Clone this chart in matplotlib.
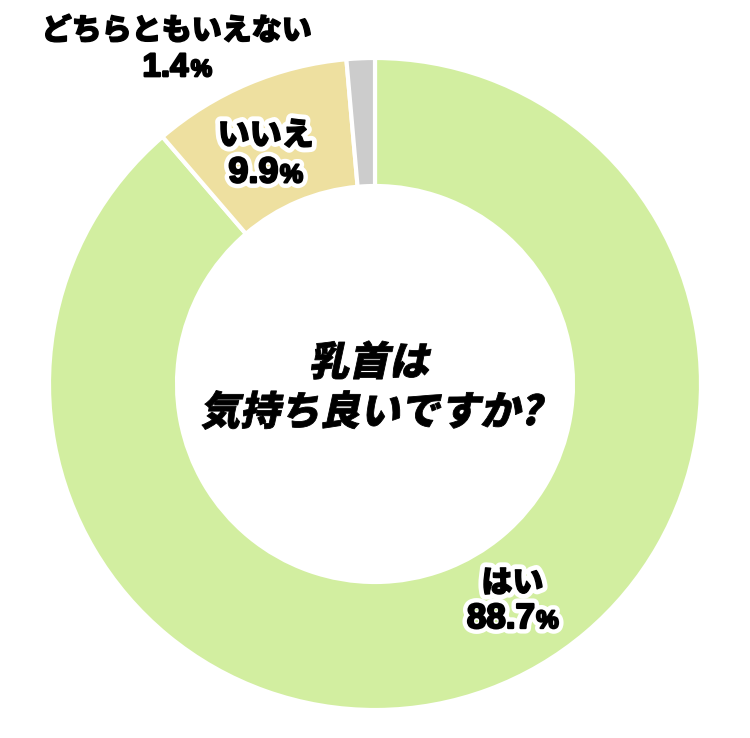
import matplotlib
matplotlib.use('Agg')
import matplotlib.pyplot as plt
from matplotlib.textpath import TextPath
from matplotlib.patches import PathPatch
from matplotlib.path import Path
from matplotlib.font_manager import FontProperties
from matplotlib.transforms import Affine2D

# data
labels = ['はい', 'いいえ', 'どちらともいえない']
values = [88.7, 9.9, 1.4]
pct_text = ['88.7', '9.9', '1.4']
colors = ['#d2eea0', '#eee0a0', '#cccccc']
title_lines = ['乳首は', '気持ち良いですか?']

W, H = 750, 738
fig = plt.figure(figsize=(7.5, 7.38), dpi=100)
ax = fig.add_axes([0, 0, 1, 1])

cx, cy = 375, H - 384
R, ring = 326, 128
ax.pie(values, colors=colors, startangle=90, counterclock=False,
       center=(cx, cy), radius=R,
       wedgeprops=dict(width=ring, edgecolor='white', linewidth=3))
ax.set_xlim(0, W)
ax.set_ylim(0, H)
ax.set_aspect('equal')
ax.axis('off')

jp = FontProperties(family='Noto Sans CJK JP', weight='black')
num = FontProperties(family='Liberation Sans', weight='bold')


def draw_runs(runs, x, y, skew=0, outline=0, thick=1.0):
    # runs: (text, size_px, font) laid out left to right, centred on x,y (pixel coords from top)
    paths = []
    pos = 0
    for s, size, fp in runs:
        tp = TextPath((pos, 0), s, size=size, prop=fp)
        paths.append(tp)
        pos = tp.get_extents().x1 + size * 0.08
    p = Path.make_compound_path(*paths)
    bb = p.get_extents()
    tr = Affine2D().translate(-(bb.x0 + bb.x1) / 2, -(bb.y0 + bb.y1) / 2)
    tr = tr.skew_deg(skew, 0).translate(x, H - y)
    p = tr.transform_path(p)
    if outline:
        ax.add_patch(PathPatch(p, fc='white', ec='white', lw=outline,
                               joinstyle='round', zorder=5))
    ax.add_patch(PathPatch(p, fc='black', ec='black', lw=thick,
                           joinstyle='round', zorder=6))


# centre title
draw_runs([(title_lines[0], 40, jp)], 372, 360, skew=12, thick=0.6)
draw_runs([(title_lines[1], 40, jp)], 373, 410, skew=12, thick=0.6)

# labels: name line and percent line
label_pos = [(513, 581, 616, 31, 35), (266, 133, 170, 32, 36), (178, 28, 65, 30, 33)]
for i, (lx, ly, py, ls, ps) in enumerate(label_pos):
    ol = 8 if i < 2 else 0
    draw_runs([(labels[i], ls, jp)], lx, ly, outline=ol)
    draw_runs([(pct_text[i], ps, num), ('%', ps * 0.72, num)], lx, py,
              outline=ol, thick=1.6)

fig.savefig('out.png', dpi=100, facecolor='white')
